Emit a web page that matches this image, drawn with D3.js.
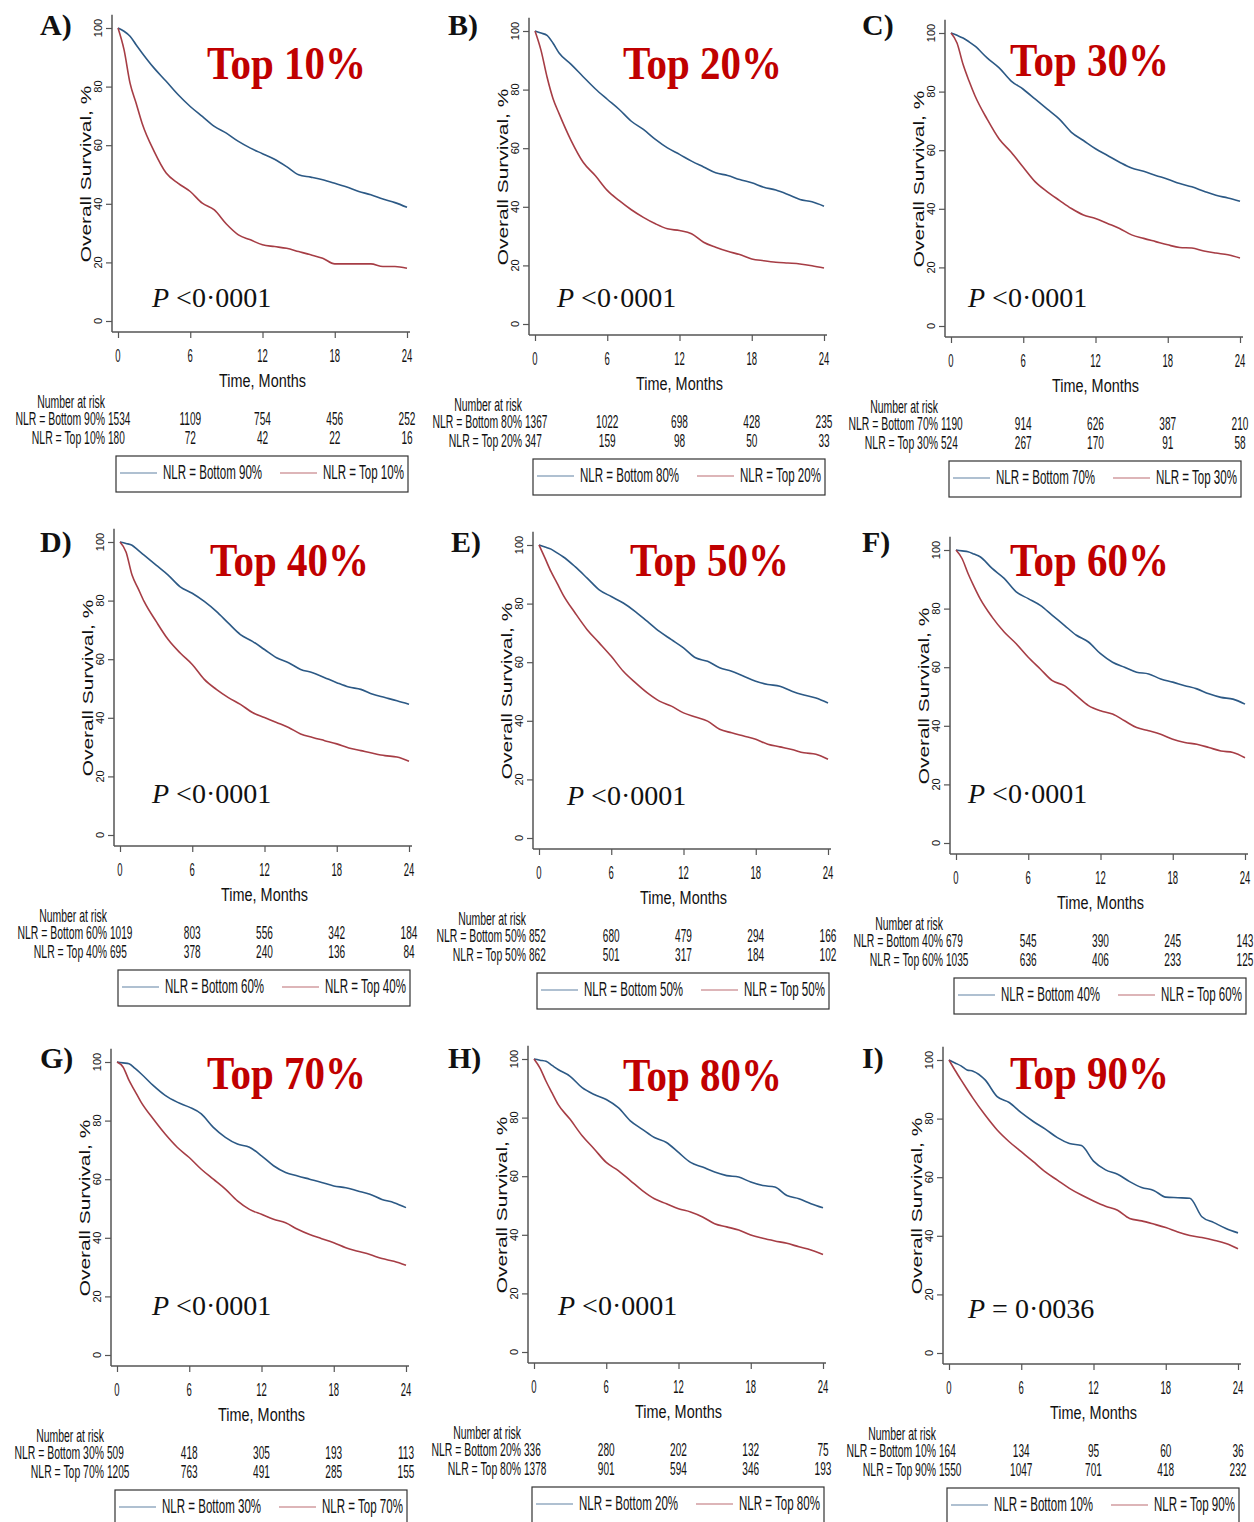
<!DOCTYPE html>
<html>
<head>
<meta charset="utf-8">
<script src="https://cdn.jsdelivr.net/npm/d3@7"></script>
<style>
  body { margin: 0; background: #fff; }
  text { font-family: "Liberation Sans", Arial, sans-serif; fill: #111; }
  .serif { font-family: "Liberation Serif", "Times New Roman", serif; }
</style>
</head>
<body>
<svg id="fig" width="1254" height="1522"></svg>
<script>
const months = [0, 0.5, 1, 1.5, 2, 3, 4, 5, 6, 7, 8, 9, 10, 11, 12, 13, 14, 15, 16, 17, 18, 19, 20, 21, 22, 23, 24];
const xTicks = [0, 6, 12, 18, 24];
const yTicks = [0, 20, 40, 60, 80, 100];

const panelLetters = ['A)', 'B)', 'C)', 'D)', 'E)', 'F)', 'G)', 'H)', 'I)'];
const titles = ['Top 10%', 'Top 20%', 'Top 30%', 'Top 40%', 'Top 50%', 'Top 60%', 'Top 70%', 'Top 80%', 'Top 90%'];
const bottomLabels = ['NLR = Bottom 90%', 'NLR = Bottom 80%', 'NLR = Bottom 70%', 'NLR = Bottom 60%', 'NLR = Bottom 50%',
  'NLR = Bottom 40%', 'NLR = Bottom 30%', 'NLR = Bottom 20%', 'NLR = Bottom 10%'];
const topLabels = ['NLR = Top 10%', 'NLR = Top 20%', 'NLR = Top 30%', 'NLR = Top 40%', 'NLR = Top 50%',
  'NLR = Top 60%', 'NLR = Top 70%', 'NLR = Top 80%', 'NLR = Top 90%'];
const pValues = ['<0·0001', '<0·0001', '<0·0001', '<0·0001', '<0·0001', '<0·0001', '<0·0001', '<0·0001', '= 0·0036'];

// overall survival, % (bottom NLR group)
const bottomCurves = [
  [100, 98.9, 97.2, 94.3, 91.5, 86.3, 81.8, 77.2, 73.2, 69.8, 66.4, 64.1, 61.3, 59, 57.1, 55.2, 52.7, 49.9, 49.1, 48.2, 47, 45.7, 44.2, 43.1, 41.6, 40.4, 38.8],
  [100, 99.3, 98.5, 95.8, 92.5, 88.6, 84.4, 80.3, 76.7, 73.2, 69.2, 66.4, 63, 60.1, 57.9, 55.6, 53.6, 51.6, 50.7, 49.3, 48.2, 46.7, 45.7, 44.2, 42.5, 41.7, 40.2],
  [100, 99.2, 98.3, 97, 95.5, 91.5, 88.1, 83.6, 80.8, 77.4, 74, 70.6, 66.1, 63.3, 60.5, 58.2, 55.9, 53.9, 52.8, 51.4, 50.1, 48.6, 47.5, 46, 44.6, 43.7, 42.6],
  [100, 99.5, 98.9, 97.2, 95.5, 92.1, 88.7, 84.7, 82.5, 79.7, 76.3, 72.3, 68.4, 66.1, 63.3, 60.5, 58.8, 56.5, 55.4, 53.7, 52, 50.5, 49.7, 48, 46.9, 45.8, 44.6],
  [100, 99.3, 98.6, 97.3, 96, 92.6, 88.7, 84.7, 82.4, 80.2, 77.3, 73.9, 70.5, 67.7, 64.9, 61.5, 60.3, 58.1, 56.9, 55.2, 53.5, 52.4, 51.8, 50.1, 48.8, 47.8, 46.1],
  [100, 99.7, 99.4, 98.6, 97.7, 93.7, 90.3, 85.7, 83.4, 81.1, 77.7, 74.3, 70.9, 68.6, 64.6, 61.7, 60, 58.3, 57.7, 56, 54.9, 53.7, 52.6, 50.9, 49.7, 49.1, 47.4],
  [100, 99.7, 99.4, 97.8, 96, 92, 88.6, 86.3, 84.6, 82.3, 77.7, 74.3, 72, 70.9, 68, 64.6, 62.3, 61.1, 60, 58.9, 57.7, 57.1, 56, 54.9, 53.1, 52, 50.3],
  [100, 99.6, 99.2, 97.8, 96.4, 94.1, 90.2, 87.9, 86.2, 83.4, 78.9, 76, 73.2, 71.5, 68.1, 64.7, 63.1, 61.4, 60.2, 59.7, 58, 56.8, 56.3, 53.4, 52.3, 50.6, 49.2],
  [100, 99, 98, 96.6, 96.2, 93.2, 87.5, 85.5, 82, 79, 76.4, 73.5, 71.5, 70.8, 65.5, 62.5, 61, 58.5, 56.5, 55.5, 53.2, 53, 52.8, 46.5, 44.5, 42.5, 41]
];

// overall survival, % (top NLR group)
const topCurves = [
  [100, 92.6, 81.2, 74.4, 67.5, 57.9, 50.5, 47, 44.2, 40.2, 37.9, 33.1, 29.4, 27.7, 26, 25.4, 24.8, 23.7, 22.6, 21.4, 19.5, 19.5, 19.5, 19.5, 18.6, 18.6, 18],
  [100, 93.4, 84.3, 76.9, 71.8, 62.6, 55.2, 50.7, 45.6, 42.1, 39, 36.4, 34.2, 32.5, 31.9, 30.8, 27.9, 26.2, 24.8, 23.7, 22.2, 21.6, 21.1, 20.8, 20.5, 19.9, 19.1],
  [100, 96.6, 89.3, 83.6, 78.5, 70.6, 63.8, 59.3, 54.2, 49.2, 45.8, 42.9, 40.1, 37.9, 36.7, 35, 33.3, 31.1, 29.9, 28.8, 27.7, 26.8, 26.6, 25.6, 24.9, 24.3, 23.2],
  [100, 96.6, 88.7, 84.2, 79.7, 72.9, 66.7, 62.1, 58.2, 53.1, 49.7, 46.9, 44.6, 41.8, 40.1, 38.4, 36.7, 34.5, 33.3, 32.2, 31.1, 29.7, 28.8, 27.9, 27.1, 26.6, 25.2],
  [100, 95.5, 90.9, 87, 83, 76.8, 71.1, 66.6, 62, 56.9, 53, 49.5, 46.7, 45, 42.7, 41.3, 39.9, 37.1, 35.9, 34.8, 33.7, 32, 31.1, 30.2, 29.1, 28.6, 26.9],
  [100, 97.1, 92, 87.5, 83.4, 77.1, 72, 68, 63.4, 59.4, 55.4, 53.7, 50.3, 46.9, 45.1, 44, 41.7, 39.4, 38.3, 37.1, 35.4, 34.3, 33.7, 32.6, 31.4, 30.9, 29.1],
  [100, 98.3, 93.7, 90, 86.3, 80.6, 75.4, 70.9, 67.4, 63.4, 60, 56.6, 52.6, 49.7, 48, 46.3, 45.1, 42.9, 41.1, 39.7, 38.3, 36.6, 35.4, 34.3, 32.9, 32, 30.6],
  [100, 96.9, 92.4, 88.4, 84.5, 79.4, 73.8, 69.3, 64.7, 61.9, 58.5, 55.1, 52.3, 50.6, 48.9, 47.8, 46.1, 43.8, 42.7, 41.6, 39.9, 38.8, 37.9, 37.1, 35.9, 34.8, 33.3],
  [100, 96.5, 93.2, 90, 86.9, 81.2, 76.1, 72.1, 68.7, 65.3, 61.8, 59, 56.2, 53.9, 51.9, 50.1, 48.7, 45.9, 45.1, 44, 42.8, 41.3, 40.1, 39.4, 38.5, 37.4, 35.6]
];

// number at risk at 0, 6, 12, 18, 24 months
const riskBottom = [
  [1534, 1109, 754, 456, 252], [1367, 1022, 698, 428, 235], [1190, 914, 626, 387, 210],
  [1019, 803, 556, 342, 184], [852, 680, 479, 294, 166], [679, 545, 390, 245, 143],
  [509, 418, 305, 193, 113], [336, 280, 202, 132, 75], [164, 134, 95, 60, 36]
];
const riskTop = [
  [180, 72, 42, 22, 16], [347, 159, 98, 50, 33], [524, 267, 170, 91, 58],
  [695, 378, 240, 136, 84], [862, 501, 317, 184, 102], [1035, 636, 406, 233, 125],
  [1205, 763, 491, 285, 155], [1378, 901, 594, 346, 193], [1550, 1047, 701, 418, 232]
];

// layout: pixel of (0 months, 100%) for each panel, plus text anchors
const panelPos = [[118, 28], [535, 31], [951, 33], [120, 542], [539, 545], [956, 550], [117, 1062], [534, 1059], [949, 1060]];
const titlePos = [[207, 79], [623, 79], [1010, 76], [210, 576], [630, 576], [1010, 576], [207, 1089], [623, 1091], [1010, 1089]];
const pPos = [[152, 307], [557, 307], [968, 307], [152, 803], [567, 805], [968, 803], [152, 1315], [558, 1315], [968, 1318]];
const letterPos = [[40, 35], [448, 35], [862, 35], [40, 552], [451, 552], [862, 552], [40, 1068], [448, 1068], [862, 1068]];

const W = 289, H = 293;
const blue = '#2c5985', red = '#a63d45', axisCol = '#555';

const svg = d3.select('#fig');

// condensed text: scale the glyphs around their anchor
function squeeze(sel, x, y, sx, sy) {
  return sel.attr('transform', `translate(${x},${y}) scale(${sx},${sy})`);
}

panelPos.forEach(([px, py], i) => {
  const x = d3.scaleLinear().domain([0, 24]).range([px, px + W]);
  const y = d3.scaleLinear().domain([0, 100]).range([py + H, py]);
  const g = svg.append('g');
  const axisX = px - 6, axisY = py + H + 11;

  // axis lines
  g.append('line')
    .attr('x1', axisX).attr('x2', axisX)
    .attr('y1', y(104.5)).attr('y2', axisY)
    .attr('stroke', axisCol).attr('stroke-width', 1.5);
  g.append('line')
    .attr('x1', axisX).attr('x2', x(24) + 3)
    .attr('y1', axisY).attr('y2', axisY)
    .attr('stroke', axisCol).attr('stroke-width', 1.5);

  g.append('g')
    .attr('transform', `translate(${axisX},0)`)
    .call(d3.axisLeft(y).tickValues(yTicks).tickSize(6).tickFormat(''))
    .call(a => a.select('.domain').remove())
    .call(a => a.selectAll('line').attr('stroke', axisCol).attr('stroke-width', 1.2));

  g.append('g')
    .attr('transform', `translate(0,${axisY})`)
    .call(d3.axisBottom(x).tickValues(xTicks).tickSize(6).tickFormat(''))
    .call(a => a.select('.domain').remove())
    .call(a => a.selectAll('line').attr('stroke', axisCol).attr('stroke-width', 1.2));

  // y tick labels, rotated
  g.selectAll('.ylab')
    .data(yTicks)
    .join('text')
    .attr('transform', d => `translate(${px - 16},${y(d)}) rotate(-90)`)
    .attr('text-anchor', 'middle')
    .attr('font-size', 11)
    .attr('fill', '#333')
    .text(d => d);

  g.append('text')
    .attr('transform', `translate(${px - 27},${py + 146}) rotate(-90) scale(1.35,1)`)
    .attr('text-anchor', 'middle')
    .attr('font-size', 15.5)
    .text('Overall Survival, %');

  // x tick labels
  g.selectAll('.xlab')
    .data(xTicks)
    .join('text')
    .each(function (d) { squeeze(d3.select(this), x(d), py + 334, 0.5, 1); })
    .attr('text-anchor', 'middle')
    .attr('font-size', 19)
    .text(d => d);

  squeeze(g.append('text'), x(12), py + 359, 0.76, 1)
    .attr('text-anchor', 'middle')
    .attr('font-size', 19)
    .text('Time, Months');

  // curves
  const line = d3.line()
    .x((d, j) => x(months[j]))
    .y(d => y(d))
    .curve(d3.curveMonotoneX);

  g.append('path')
    .attr('d', line(bottomCurves[i]))
    .attr('fill', 'none')
    .attr('stroke', blue)
    .attr('stroke-width', 1.6);

  g.append('path')
    .attr('d', line(topCurves[i]))
    .attr('fill', 'none')
    .attr('stroke', red)
    .attr('stroke-width', 1.6);

  // number at risk table
  squeeze(g.append('text'), px - 13, py + 380, 0.58, 1)
    .attr('text-anchor', 'end')
    .attr('font-size', 18)
    .text('Number at risk');

  [[bottomLabels[i], riskBottom[i], py + 397], [topLabels[i], riskTop[i], py + 416]].forEach(([lab, vals, by]) => {
    squeeze(g.append('text'), px - 13, by, 0.58, 1)
      .attr('text-anchor', 'end')
      .attr('font-size', 18)
      .text(lab);
    vals.forEach((v, k) => {
      squeeze(g.append('text'), k === 0 ? px - 10 : x(xTicks[k]), by, 0.56, 1)
        .attr('text-anchor', k === 0 ? 'start' : 'middle')
        .attr('font-size', 18)
        .text(v);
    });
  });

  // legend
  g.append('rect')
    .attr('x', px - 2).attr('y', py + 428)
    .attr('width', 292).attr('height', 36)
    .attr('fill', 'none').attr('stroke', '#333').attr('stroke-width', 1.2);

  [[blue, bottomLabels[i], 2], [red, topLabels[i], 162]].forEach(([c, lab, off]) => {
    g.append('line')
      .attr('x1', px + off).attr('x2', px + off + 37)
      .attr('y1', py + 445).attr('y2', py + 445)
      .attr('stroke', c).attr('stroke-width', 1.2).attr('opacity', 0.75);
    squeeze(g.append('text'), px + off + 43, py + 451, 0.55, 1)
      .attr('font-size', 21)
      .text(lab);
  });

  // annotations
  svg.append('text')
    .attr('class', 'serif')
    .attr('x', letterPos[i][0]).attr('y', letterPos[i][1])
    .attr('font-size', 30)
    .attr('font-weight', 'bold')
    .text(panelLetters[i]);

  svg.append('text')
    .attr('class', 'serif')
    .attr('transform', `translate(${titlePos[i][0]},${titlePos[i][1]}) scale(1,1.13)`)
    .attr('font-size', 41)
    .attr('font-weight', 'bold')
    .style('fill', '#c00000')
    .text(titles[i]);

  const pt = svg.append('text')
    .attr('class', 'serif')
    .attr('x', pPos[i][0]).attr('y', pPos[i][1])
    .attr('font-size', 28);
  pt.append('tspan').attr('font-style', 'italic').text('P');
  pt.append('tspan').text(' ' + pValues[i]);
});
</script>
</body>
</html>
